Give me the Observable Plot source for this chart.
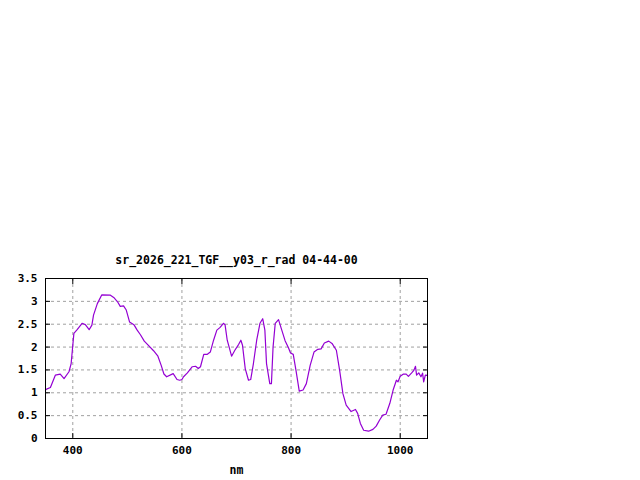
<!DOCTYPE html>
<html>
<head>
<meta charset="utf-8">
<script src="https://cdn.jsdelivr.net/npm/d3@7"></script>
<script src="https://cdn.jsdelivr.net/npm/@observablehq/plot@0.6"></script>
<style>
  html, body { margin: 0; padding: 0; background: #fff; }
  svg { display: block; }
</style>
</head>
<body>
<div id="chart"></div>
<script>
const title = "sr_2026_221_TGF__y03_r_rad 04-44-00";
const xLabel = "nm";
const xTicks = [400, 600, 800, 1000];
const yTicks = [0, 0.5, 1, 1.5, 2, 2.5, 3, 3.5];

const wavelength = [350, 352, 359, 368, 377, 384, 393, 397, 402, 408, 417, 423, 430, 435, 438, 445, 453, 469, 475, 482, 487, 493, 498, 504, 512, 518, 524, 531, 539, 548, 556, 562, 567, 572, 584, 591, 596, 600, 603, 610, 619, 625, 630, 634, 640, 646, 652, 658, 664, 670, 676, 679, 683, 691, 697, 704, 708, 711, 716, 722, 726, 731, 737, 743, 748, 752, 755, 761, 764, 767, 771, 777, 783, 789, 795, 799, 804, 809, 815, 822, 828, 835, 842, 849, 855, 861, 869, 875, 883, 889, 895, 901, 910, 918, 922, 927, 933, 942, 950, 956, 962, 968, 974, 981, 987, 993, 996, 1000, 1006, 1011, 1015, 1021, 1025, 1028, 1030, 1034, 1038, 1041, 1043, 1046, 1050];
const radiance = [1.06, 1.08, 1.115, 1.385, 1.41, 1.31, 1.46, 1.64, 2.30, 2.38, 2.52, 2.49, 2.38, 2.48, 2.70, 2.95, 3.14, 3.135, 3.085, 2.99, 2.89, 2.90, 2.81, 2.55, 2.49, 2.37, 2.27, 2.13, 2.03, 1.92, 1.80, 1.60, 1.41, 1.35, 1.42, 1.29, 1.275, 1.29, 1.35, 1.435, 1.57, 1.58, 1.53, 1.57, 1.84, 1.84, 1.89, 2.15, 2.37, 2.43, 2.52, 2.49, 2.15, 1.80, 1.93, 2.06, 2.15, 2.04, 1.53, 1.275, 1.29, 1.64, 2.15, 2.52, 2.62, 2.37, 1.64, 1.20, 1.20, 2.00, 2.52, 2.60, 2.37, 2.14, 1.99, 1.87, 1.84, 1.49, 1.035, 1.06, 1.20, 1.60, 1.89, 1.95, 1.96, 2.09, 2.13, 2.08, 1.93, 1.49, 0.98, 0.73, 0.59, 0.635, 0.55, 0.33, 0.18, 0.16, 0.20, 0.27, 0.40, 0.51, 0.53, 0.77, 1.06, 1.275, 1.24, 1.36, 1.41, 1.41, 1.36, 1.435, 1.49, 1.58, 1.385, 1.435, 1.35, 1.43, 1.24, 1.385, 1.38];

const data = wavelength.map((w, i) => ({w, r: radiance[i]}));

const font = "'DejaVu Sans Mono', 'Liberation Mono', monospace";

const chart = Plot.plot({
  width: 640,
  height: 480,
  marginTop: 278,
  marginLeft: 45,
  marginRight: 213,
  marginBottom: 42,
  style: {fontFamily: font, fontSize: "11px", fontWeight: "bold", color: "#000", background: "#fff"},
  x: {domain: [350, 1050], ticks: xTicks},
  y: {domain: [0, 3.5], ticks: yTicks},
  marks: [
    Plot.ruleX(xTicks, {stroke: "#a0a0a0", strokeDasharray: "3,3", strokeWidth: 1}),
    Plot.ruleY(yTicks.filter(d => d > 0 && d < 3.5), {stroke: "#a0a0a0", strokeDasharray: "3,3", strokeWidth: 1}),
    Plot.axisX({anchor: "bottom", ticks: xTicks, tickSize: -5, tickPadding: 13, tickFormat: d => `${d}`, label: null, fontWeight: "bold"}),
    Plot.axisX({anchor: "top", ticks: xTicks, tickSize: -5, tickFormat: () => "", label: null}),
    Plot.axisY({anchor: "left", ticks: yTicks, tickSize: -5, tickPadding: 13, tickFormat: d => `${d}`, label: null, fontWeight: "bold"}),
    Plot.axisY({anchor: "right", ticks: yTicks, tickSize: -5, tickFormat: () => "", label: null}),
    Plot.line(data, {x: "w", y: "r", stroke: "#9400d3", strokeWidth: 1.2}),
    Plot.frame({stroke: "#000", strokeWidth: 1}),
    Plot.text([title], {frameAnchor: "top", dy: -23, text: d => d, fontSize: 11.5, fontWeight: "bold", fill: "#000"}),
    Plot.text([xLabel], {frameAnchor: "bottom", dy: 35, text: d => d, fontSize: 11.5, fontWeight: "bold", fill: "#000"})
  ]
});
document.getElementById("chart").appendChild(chart);
</script>
</body>
</html>
